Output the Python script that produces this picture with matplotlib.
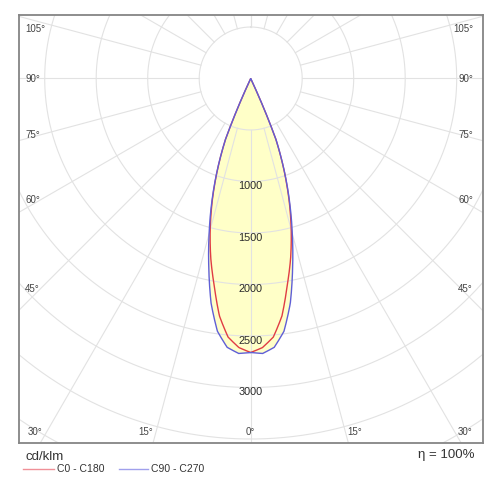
import numpy as np
import matplotlib
matplotlib.use("Agg")
import matplotlib.pyplot as plt
from matplotlib.lines import Line2D
from matplotlib.path import Path
from matplotlib.patches import PathPatch
from matplotlib.projections.polar import PolarAxes

plt.rcParams['font.family'] = ['Liberation Sans', 'DejaVu Sans']

# ---- data (cd/klm), angle measured from nadir ----
angles = [0, 2.5, 5, 7.5, 10, 12.5, 15, 17.5, 20, 22.5, 25]
c0_c180 = [2660, 2615, 2520, 2325, 2040, 1790, 1520, 1240, 945, 640, 0]
c90_c270 = [2660, 2672, 2620, 2475, 2215, 1880, 1560, 1255, 950, 640, 0]
ring_values = [500, 1000, 1500, 2000, 2500, 3000, 3500, 4000, 4500]
ring_labels = [1000, 1500, 2000, 2500, 3000]
ray_angles = list(range(-180, 181, 15))
series_names = ["C0 - C180", "C90 - C270"]
series_colors = ["#e03c44", "#5f5fd6"]
legend_colors = ["#f09098", "#a0a0ec"]
efficiency = "η = 100%"
unit = "cd/klm"

W = H = 500
fig = plt.figure(figsize=(5, 5), dpi=100)

# frame in pixels
L, R, T, B = 18.7, 482.7, 14.7, 443.3
cx, cy = 250.7, 78.5
s = 0.103  # px per cd
ax = fig.add_axes([L / W, 1 - B / H, (R - L) / W, (B - T) / H])
ax.set_xlim((L - cx) / s, (R - cx) / s)
ax.set_ylim(-(B - cy) / s, (cy - T) / s)
ax.set_xticks([]); ax.set_yticks([])
for sp in ax.spines.values():
    sp.set_color("#858585"); sp.set_linewidth(1.3)

# polar transform (theta in radians from +x, r in cd) -> data coords
ptr = PolarAxes.PolarTransform(apply_theta_transforms=False) + ax.transData

def polar_path(vals):
    a = np.array(angles, float); v = np.array(vals, float)
    th = np.concatenate([-a[::-1], a[1:]])
    rv = np.concatenate([v[::-1], v[1:]])
    t = np.radians(th - 90.0)
    verts = np.column_stack([t, rv])
    codes = [Path.MOVETO] + [Path.LINETO] * (len(verts) - 1)
    return Path(verts, codes, _interpolation_steps=40)

for vals in [c90_c270, c0_c180]:
    ax.add_patch(PathPatch(polar_path(vals), transform=ptr, facecolor="#FFFFC8",
                           edgecolor="none", lw=0, zorder=1))

# grid
grid_c = "#e2e2e2"
tt = np.linspace(0, 2 * np.pi, 720)
for rv in ring_values:
    ax.plot(rv * np.sin(tt), rv * np.cos(tt), color=grid_c, lw=0.8, zorder=2)
for a in ray_angles:
    t = np.radians(a)
    ax.plot([500 * np.sin(t), 6000 * np.sin(t)], [-500 * np.cos(t), -6000 * np.cos(t)],
            color=grid_c, lw=0.8, zorder=2)

for vals, c in zip([c0_c180, c90_c270], series_colors):
    ax.add_patch(PathPatch(polar_path(vals), transform=ptr, facecolor="none",
                           edgecolor=c, lw=1.0, zorder=3))

for v in ring_labels:
    ax.text(0, -(v + 45), str(v), ha="center", va="center", fontsize=7.8,
            color="#2a2a2a", zorder=4)

def ftext(px, py, s_, **kw):
    fig.text(px / W, 1 - py / H, s_, **kw)

ang_kw = dict(fontsize=7, color="#444444", va="center")
side = [("105°", 29.5), ("90°", 79), ("75°", 134.5), ("60°", 200), ("45°", 289)]
for lab, py in side:
    ftext(25, py, lab, ha="left", **ang_kw)
    ftext(473, py, lab, ha="right", **ang_kw)
bottom = [("30°", 35.5), ("15°", 146), ("0°", 250), ("15°", 354.5), ("30°", 465)]
for lab, px in bottom:
    ftext(px, 432, lab, ha="center", **ang_kw)

ftext(25, 457, unit, ha="left", va="center", fontsize=9.5, color="#333333")
ftext(475, 455, efficiency, ha="right", va="center", fontsize=9.5, color="#333333")

leg = [(23, 54, 57), (119, 148, 151)]
for (x0, x1, xt), name, c in zip(leg, series_names, legend_colors):
    fig.add_artist(Line2D([x0 / W, x1 / W], [1 - 469 / H, 1 - 469 / H], color=c,
                          lw=1.0, transform=fig.transFigure))
    ftext(xt, 469.5, name, ha="left", va="center", fontsize=7.5, color="#333333")

fig.savefig("out.png", dpi=100)
